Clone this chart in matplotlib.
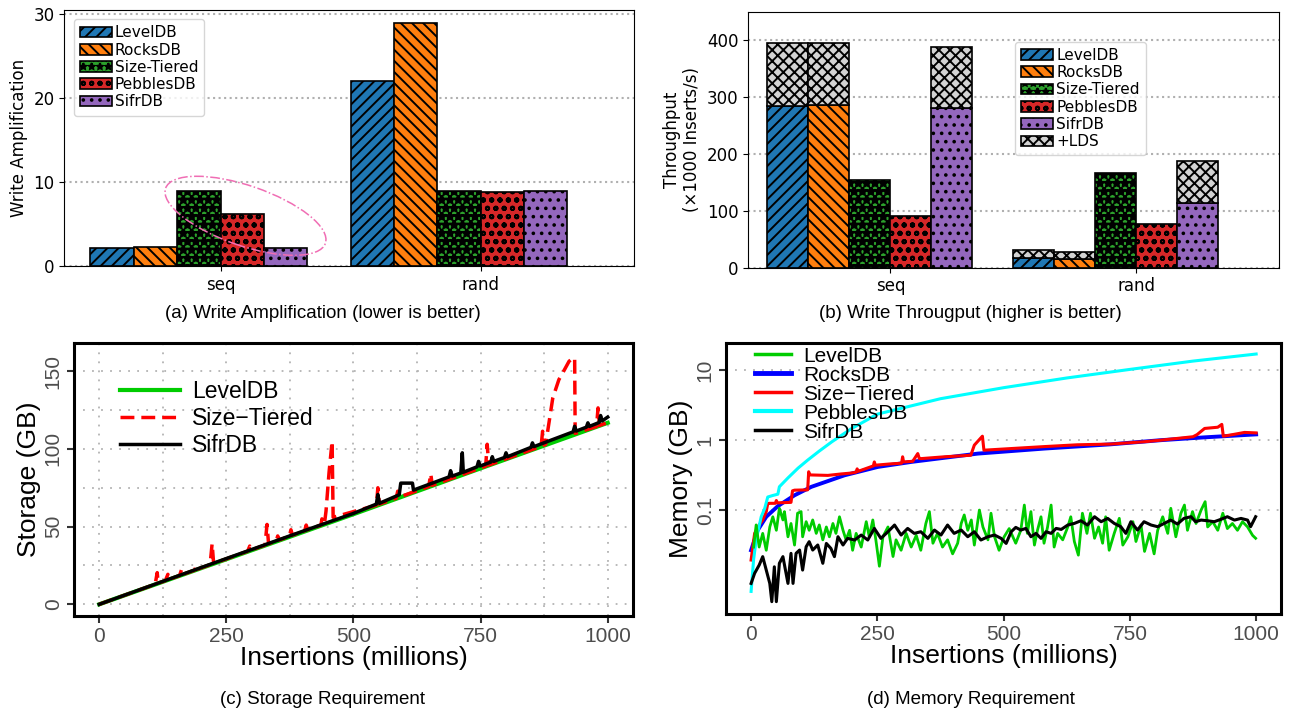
import numpy as np
import matplotlib
matplotlib.use('Agg')
import matplotlib.pyplot as plt
from matplotlib.patches import Ellipse, Patch
from matplotlib.lines import Line2D
from matplotlib.transforms import ScaledTranslation
from matplotlib.ticker import NullLocator

# ---- (a) / (b) bar data ----
stores = ['LevelDB', 'RocksDB', 'Size-Tiered', 'PebblesDB', 'SifrDB']
workloads = ['seq', 'rand']
wa_seq = [2.18, 2.25, 8.92, 6.18, 2.18]
wa_rand = [22.0, 28.9, 8.88, 8.8, 8.88]
tp_seq = [285, 285.5, 154.3, 91, 280.4]
tp_rand = [17.6, 15.3, 166, 76.9, 113.2]
# throughput with the LDS layout on top (nan = no LDS bar)
tp_lds_seq = [394.7, 395, np.nan, np.nan, 388.8]
tp_lds_rand = [31.1, 28.1, np.nan, np.nan, 187.7]

# ---- (c) storage data ----
lvl_sto_x = [0, 250, 500, 750, 1000]
lvl_sto_y = [0, 29.0, 58.0, 87.5, 116.8]
st_sto_x = [0, 110, 114, 116, 130, 135, 138, 158, 162, 165, 188, 191, 194, 218, 222, 225,
            292, 296, 299, 326, 330, 333, 348, 351, 354, 374, 377, 380, 404, 407, 410,
            436, 438, 441, 443, 446, 452, 458, 460, 545, 548, 551, 584, 587, 590, 648, 652, 655,
            760, 763, 766, 869, 872, 875, 878, 892, 904, 915, 924, 932, 935, 936, 978, 981, 984, 1000]
st_sto_y = [0, 12.9, 20.4, 13.6, 15.2, 19.3, 16.1, 18.5, 22.5, 19.3, 22.0, 25.7, 22.7, 25.5, 39.0, 26.3,
            34.2, 37.5, 35.0, 38.1, 51.4, 39.0, 40.7, 44.0, 41.4, 43.8, 48.0, 44.5, 47.3, 51.0, 48.0,
            51.0, 55.0, 51.6, 52.0, 60.0, 85.0, 105.0, 56.0, 63.8, 75.0, 64.5, 68.3, 72.8, 69.0, 75.8, 84.0, 76.6,
            88.9, 103.0, 89.6, 101.7, 111.4, 102.4, 103.0, 132.8, 144.6, 151.0, 156.4, 158.6, 158.6, 110.0,
            114.4, 126.4, 115.1, 117.0]
sifr_sto_x = [0, 100, 200, 300, 400, 500, 545, 548, 551, 590, 593, 616, 618, 688, 691, 694, 711, 714, 716,
              743, 746, 749, 770, 773, 776, 797, 800, 803, 849, 852, 855, 932, 935, 938, 958, 961, 964,
              983, 986, 989, 1000]
sifr_sto_y = [0, 11.8, 23.6, 35.3, 47.0, 58.5, 64.5, 70.7, 65.0, 70.5, 78.0, 78.0, 73.5, 82.0, 86.0, 82.5,
              84.5, 97.5, 85.0, 88.5, 92.0, 89.0, 91.5, 95.0, 92.0, 94.5, 97.5, 95.0, 101.0, 103.9, 101.5,
              111.0, 114.6, 111.5, 114.0, 116.8, 114.5, 117.0, 121.5, 118.0, 120.5]

# ---- (d) memory data ----
lvl_mem_x = [5, 10, 16, 23, 30, 37, 43, 50, 56, 63, 66, 73, 79, 86, 92, 99, 102, 109, 115, 122, 129, 135,
             142, 149, 155, 162, 168, 175, 182, 188, 195, 201, 208, 218, 228, 234, 241, 247, 254, 261, 271,
             281, 287, 297, 307, 317, 327, 336, 346, 353, 360, 369, 379, 389, 399, 409, 416, 422, 429, 436,
             442, 452, 459, 469, 475, 482, 491, 501, 511, 524, 534, 541, 547, 554, 561, 567, 574, 580, 587,
             594, 600, 607, 617, 627, 633, 640, 648, 656, 665, 672, 680, 688, 696, 702, 709, 719, 729, 736,
             746, 756, 762, 772, 779, 789, 798, 805, 815, 825, 831, 841, 851, 858, 864, 874, 881, 891, 899,
             904, 914, 924, 934, 943, 953, 963, 973, 983, 993, 999]
lvl_mem_y = [0.030, 0.062, 0.030, 0.047, 0.027, 0.058, 0.081, 0.052, 0.107, 0.073, 0.096, 0.042, 0.065,
             0.032, 0.091, 0.096, 0.042, 0.069, 0.052, 0.073, 0.047, 0.062, 0.038, 0.058, 0.042, 0.065,
             0.047, 0.081, 0.052, 0.038, 0.052, 0.027, 0.047, 0.030, 0.069, 0.042, 0.073, 0.038, 0.016,
             0.042, 0.058, 0.022, 0.038, 0.027, 0.047, 0.030, 0.044, 0.027, 0.065, 0.096, 0.034, 0.047,
             0.030, 0.038, 0.024, 0.034, 0.065, 0.086, 0.052, 0.073, 0.032, 0.101, 0.058, 0.038, 0.091,
             0.042, 0.027, 0.042, 0.055, 0.034, 0.052, 0.119, 0.047, 0.096, 0.032, 0.052, 0.081, 0.034,
             0.058, 0.119, 0.030, 0.047, 0.038, 0.058, 0.081, 0.036, 0.023, 0.091, 0.047, 0.091, 0.040,
             0.058, 0.034, 0.081, 0.027, 0.047, 0.077, 0.032, 0.042, 0.069, 0.036, 0.062, 0.026, 0.047,
             0.024, 0.052, 0.081, 0.047, 0.107, 0.042, 0.091, 0.119, 0.052, 0.096, 0.065, 0.101, 0.133,
             0.058, 0.069, 0.052, 0.091, 0.055, 0.065, 0.052, 0.069, 0.058, 0.044, 0.040]
rocks_mem_x = [0, 13, 30, 53, 86, 119, 185, 251, 317, 449, 580, 712, 811, 900, 1000]
rocks_mem_y = [0.027, 0.052, 0.081, 0.115, 0.164, 0.216, 0.316, 0.416, 0.49, 0.644, 0.759, 0.873, 1.0, 1.1, 1.21]
st_mem_x = [0, 7, 16, 23, 30, 33, 36, 48, 50, 52, 79, 82, 86, 112, 114, 116, 152, 178, 198, 208, 210, 212,
            242, 244, 246, 277, 298, 300, 302, 320, 330, 333, 336, 383, 435, 442, 458, 461, 515, 580, 646,
            712, 778, 811, 875, 883, 898, 924, 932, 935, 956, 977, 1000]
st_mem_y = [0.0196, 0.047, 0.062, 0.073, 0.096, 0.125, 0.126, 0.126, 0.138, 0.128, 0.13, 0.19, 0.194, 0.196,
            0.355, 0.32, 0.315, 0.33, 0.34, 0.35, 0.39, 0.36, 0.43, 0.49, 0.44, 0.46, 0.47, 0.58, 0.49, 0.5,
            0.645, 0.55, 0.546, 0.58, 0.61, 0.85, 1.14, 0.72, 0.76, 0.81, 0.86, 0.88, 0.95, 1.0, 1.12, 1.2,
            1.47, 1.53, 1.68, 1.14, 1.21, 1.29, 1.27]
peb_mem_x = [0, 5, 10, 20, 27, 33, 43, 53, 56, 73, 93, 112, 135, 160, 198, 250, 375, 500, 625, 750, 875, 1000]
peb_mem_y = [0.007, 0.02, 0.038, 0.081, 0.107, 0.155, 0.163, 0.17, 0.217, 0.29, 0.4, 0.52, 0.7, 0.95, 1.45,
             2.35, 3.9, 5.6, 7.7, 10.2, 13.4, 16.9]
sifr_mem_x = [0, 7, 16, 23, 30, 37, 41, 46, 50, 56, 63, 73, 79, 83, 89, 96, 102, 109, 115, 122, 132, 142,
              149, 158, 165, 172, 182, 191, 205, 218, 231, 244, 257, 271, 284, 297, 310, 323, 336, 350,
              363, 376, 389, 402, 416, 429, 442, 455, 469, 482, 495, 505, 515, 524, 534, 544, 554, 564,
              574, 584, 594, 604, 614, 627, 640, 653, 666, 680, 693, 706, 719, 732, 742, 752, 765, 778,
              792, 805, 818, 831, 844, 857, 871, 880, 891, 904, 917, 930, 943, 957, 970, 983, 989, 999]
sifr_mem_y = [0.0091, 0.0127, 0.0166, 0.0219, 0.0141, 0.0091, 0.0050, 0.0157, 0.0050, 0.0176, 0.0219,
              0.0091, 0.0244, 0.0091, 0.0244, 0.0272, 0.0141, 0.0303, 0.0358, 0.0272, 0.0321, 0.0176,
              0.0338, 0.0287, 0.0219, 0.0421, 0.0321, 0.0399, 0.0378, 0.0445, 0.0378, 0.0553, 0.0399,
              0.0496, 0.0618, 0.0445, 0.0553, 0.0470, 0.0496, 0.0399, 0.0524, 0.0445, 0.0618, 0.0470,
              0.0524, 0.0421, 0.0496, 0.0378, 0.0421, 0.0445, 0.0399, 0.0338, 0.0496, 0.0572, 0.0524,
              0.0553, 0.0421, 0.0470, 0.0399, 0.0496, 0.0470, 0.0553, 0.0535, 0.0618, 0.0652, 0.0711,
              0.0618, 0.0812, 0.0689, 0.0768, 0.0652, 0.0585, 0.0470, 0.0689, 0.0524, 0.0689, 0.0618,
              0.0585, 0.0652, 0.0727, 0.0638, 0.0768, 0.0812, 0.0689, 0.0727, 0.0711, 0.0689, 0.0744,
              0.0812, 0.0727, 0.0768, 0.0727, 0.0585, 0.0812]

bar_colors = ['#1f77b4', '#ff7f0e', '#2ca02c', '#d62728', '#9467bd']
bar_hatches = ['///', '\\\\\\', '**', 'oo', '..']
lds_hatch = 'xxx'
rfont = 'Liberation Sans'
tick_gray = '#4D4D4D'

plt.rcParams['hatch.linewidth'] = 1.4
fig = plt.figure(figsize=(12.95, 7.15), dpi=100)

xpos = np.arange(len(workloads))
w = 1 / 6

# the Size-Tiered pattern is drawn with fat stars (mostly black look)
fat = {}
if hasattr(Patch, 'set_hatch_linewidth'):
    fat = {'hatch_linewidth': 2.2}


def bar_kw(i):
    kw = dict(facecolor=bar_colors[i], edgecolor='black', linewidth=1.2, hatch=bar_hatches[i])
    if i == 2:
        kw.update(fat)
    return kw


def bar_axes(ax):
    ax.set_axisbelow(True)
    ax.yaxis.grid(True, linestyle=':', color='#b0b0b0', linewidth=1.5)
    ax.set_xticks(xpos)
    ax.set_xticklabels(workloads)
    ax.tick_params(labelsize=12)


# (a) write amplification
axa = fig.add_axes([0.0497, 0.628, 0.4401, 0.358])
for i, name in enumerate(stores):
    axa.bar(xpos + (i - 3) * w, [wa_seq[i], wa_rand[i]], w, align='edge', label=name, **bar_kw(i))
bar_axes(axa)
axa.set_xlim(-0.6, 1.59)
axa.set_ylim(0, 30.45)
axa.set_yticks([0, 10, 20, 30])
axa.set_ylabel('Write Amplification', fontsize=12)
wa_handles = [Patch(**bar_kw(i)) for i in range(len(stores))]
axa.legend(wa_handles, stores, loc='upper left', fontsize=11, handlelength=2.1, handletextpad=0.2,
           labelspacing=0.15, borderpad=0.4, borderaxespad=0.6)
ell = Ellipse((0, 0), 1.69, 0.6, angle=-19, fill=False, edgecolor='#f06eb4', linestyle='-.',
              linewidth=1.1, transform=fig.dpi_scale_trans + ScaledTranslation(0.096, 5.97, axa.transData))
axa.add_patch(ell)

# (b) write throughput
axb = fig.add_axes([0.5778, 0.6256, 0.4101, 0.358])
lds_seq = np.array(tp_lds_seq)
lds_rand = np.array(tp_lds_rand)
for i, name in enumerate(stores):
    base = np.array([tp_seq[i], tp_rand[i]])
    axb.bar(xpos + (i - 3) * w, base, w, align='edge', **bar_kw(i))
    top = np.array([lds_seq[i], lds_rand[i]])
    if not np.isnan(top).all():
        axb.bar(xpos + (i - 3) * w, top - base, w, bottom=base, align='edge', facecolor='#d3d3d3',
                edgecolor='black', linewidth=1.2, hatch=lds_hatch)
bar_axes(axb)
axb.set_xlim(-0.578, 1.582)
axb.set_ylim(0, 450)
axb.set_yticks([0, 100, 200, 300, 400])
axb.set_ylabel('Throughput\n(×1000 Inserts/s)', fontsize=12)
handles = [Patch(**bar_kw(i)) for i in range(len(stores))]
handles.append(Patch(facecolor='#d3d3d3', edgecolor='black', linewidth=1.2, hatch=lds_hatch))
axb.legend(handles, stores + ['+LDS'], loc='upper left', bbox_to_anchor=(0.502, 0.883),
           borderaxespad=0, fontsize=11, handlelength=2.1, handletextpad=0.2,
           labelspacing=0.15, borderpad=0.4)


def r_axes(ax):
    for s in ax.spines.values():
        s.set_linewidth(2.2)
        s.set_color('black')
    ax.tick_params(which='major', length=5, width=1.5, color='#333333', labelsize=15,
                   labelcolor=tick_gray, pad=3)
    ax.tick_params(which='minor', length=0)
    ax.tick_params(axis='y', labelrotation=90)
    for lab in ax.get_yticklabels():
        lab.set_va('center')
    plt.setp(ax.get_xticklabels() + ax.get_yticklabels(), family=rfont)
    ax.set_xlabel('Insertions (millions)', fontsize=19, family=rfont, labelpad=0)


# (c) storage requirement
axc = fig.add_axes([0.0570, 0.1385, 0.4319, 0.3814])
axc.plot(lvl_sto_x, lvl_sto_y, color='#00CC00', lw=3, label='LevelDB')
axc.plot(st_sto_x, st_sto_y, color='red', lw=2.5, dashes=(4, 2), label='Size−Tiered')
axc.plot(sifr_sto_x, sifr_sto_y, color='black', lw=2.5, label='SifrDB')
axc.set_xlim(-50, 1050)
axc.set_ylim(-7.5, 168)
axc.set_xticks([0, 250, 500, 750, 1000])
axc.set_xticks([125, 375, 625, 875], minor=True)
axc.set_yticks([0, 50, 100, 150])
axc.set_yticks([25, 75, 125], minor=True)
axc.grid(True, which='both', linestyle=(0, (1, 4)), color='#b3b3b3', linewidth=1.3)
r_axes(axc)
axc.set_ylabel('Storage (GB)', fontsize=19, family=rfont, labelpad=2)
axc.legend(loc='upper left', bbox_to_anchor=(0.083, 0.865), borderaxespad=0, borderpad=0,
           frameon=False, prop={'family': rfont, 'size': 16.5}, handlelength=2.6,
           handletextpad=0.55, labelspacing=0.17)

# (d) memory requirement
axd = fig.add_axes([0.5605, 0.1408, 0.4290, 0.3799])
axd.plot(rocks_mem_x, rocks_mem_y, color='#0000FF', lw=2.8)
axd.plot(st_mem_x, st_mem_y, color='#FF0000', lw=2.2)
axd.plot(peb_mem_x, peb_mem_y, color='#00FFFF', lw=2.2)
axd.plot(lvl_mem_x, lvl_mem_y, color='#00CC00', lw=2.0)
axd.plot(sifr_mem_x, sifr_mem_y, color='black', lw=2.2)
axd.set_yscale('log')
axd.set_xlim(-50, 1050)
axd.set_ylim(0.0033, 24.5)
axd.set_xticks([0, 250, 500, 750, 1000])
axd.set_yticks([0.1, 1, 10])
axd.set_yticklabels(['0.1', '1', '10'])
axd.yaxis.set_minor_locator(NullLocator())
axd.yaxis.grid(True, linestyle=(0, (1, 4)), color='#b3b3b3', linewidth=1.3)
r_axes(axd)
axd.set_ylabel('Memory (GB)', fontsize=19, family=rfont, labelpad=2)
mem_handles = [Line2D([], [], color='#00CC00', lw=2.5), Line2D([], [], color='#0000FF', lw=3.5),
               Line2D([], [], color='#FF0000', lw=2.5), Line2D([], [], color='#00FFFF', lw=3),
               Line2D([], [], color='black', lw=2.5)]
axd.legend(mem_handles, ['LevelDB', 'RocksDB', 'Size−Tiered', 'PebblesDB', 'SifrDB'],
           loc='upper left', bbox_to_anchor=(0.053, 0.986), borderaxespad=0, borderpad=0,
           frameon=False, prop={'family': rfont, 'size': 15}, handlelength=1.7,
           handletextpad=0.6, labelspacing=0.0)

# captions
fig.text(0.249, 0.5622, '(a) Write Amplification (lower is better)', ha='center', va='center',
         fontsize=13.5, family=rfont)
fig.text(0.749, 0.5622, '(b) Write Througput (higher is better)', ha='center', va='center',
         fontsize=13.5, family=rfont)
fig.text(0.2494, 0.021, '(c) Storage Requirement', ha='center', va='center', fontsize=13.5, family=rfont)
fig.text(0.7494, 0.021, '(d) Memory Requirement', ha='center', va='center', fontsize=13.5, family=rfont)

fig.savefig('out.png', dpi=100)
